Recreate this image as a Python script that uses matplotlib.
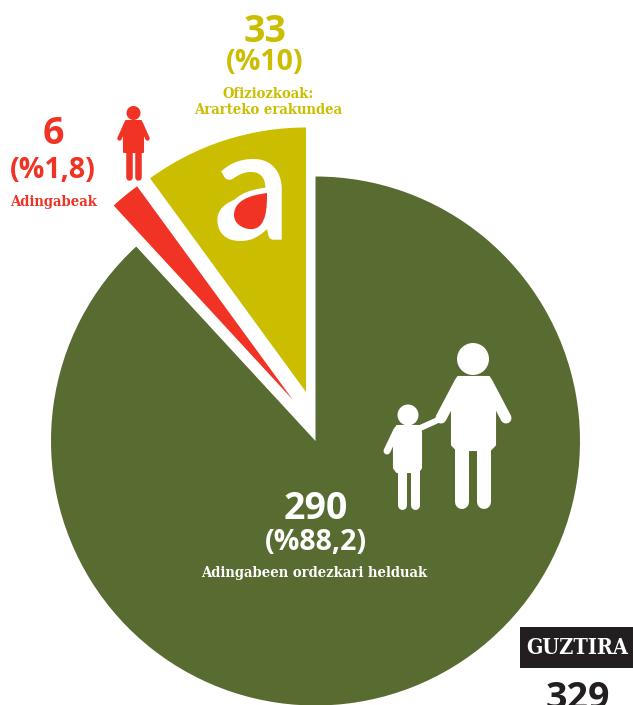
import matplotlib
matplotlib.use("Agg")
import matplotlib.pyplot as plt
from matplotlib.patches import Circle, Polygon, PathPatch, Rectangle
from matplotlib.path import Path

# Data
values = [290, 6, 33]
colors = ['#586B31', '#F03324', '#CBBD00']
counts = ['290', '6', '33']
shares = ['(%88,2)', '(%1,8)', '(%10)']
names = ['Adingabeen ordezkari helduak', 'Adingabeak', 'Ofiziozkoak:\nArarteko erakundea']
total_label = 'GUZTIRA'
total = '329'

W, H = 633, 705
NUM_FONT = 'Open Sans'
SLAB = dict(family='DejaVu Serif', stretch='condensed', weight='bold')
WHITE = 'white'


def Y(y):
    # picture rows run downwards, the axes run upwards
    return H - y


def limb(ax, x0, y0, x1, y1, width, color=WHITE):
    ax.plot([x0, x1], [Y(y0), Y(y1)], color=color, lw=width * 0.72,
            solid_capstyle='round', zorder=5)


def body(ax, pts, color=WHITE):
    ax.add_patch(Polygon([(x, Y(y)) for x, y in pts], closed=True, fc=color,
                         ec=color, lw=1.5, joinstyle='round', zorder=5))


fig = plt.figure(figsize=(W / 100, H / 100), dpi=100)
ax = fig.add_axes([0, 0, 1, 1])

# Pie, then pull the two small slices out to where they sit
wedges, _ = ax.pie(values, colors=colors, startangle=90, counterclock=False,
                   radius=264.5, center=(315.5, Y(441)))
wedges[1].set_center((293, Y(400)))
wedges[2].set_center((306, Y(392)))
ax.set_xlim(0, W)
ax.set_ylim(0, H)
ax.set_aspect('equal')
ax.axis('off')

# Yellow slice: logo
ax.text(252, Y(240), 'a', family='Lato', weight='semibold', fontsize=112, color=WHITE,
        ha='center', va='baseline', zorder=4)
drop = [(267, 193), (262, 194), (234, 196), (234, 215), (234, 226), (247, 230), (253, 229),
        (267, 227), (267, 206), (267, 193)]
codes = [Path.MOVETO] + [Path.CURVE4] * 9
drop_path = Path([(x, Y(y)) for x, y in drop], codes)
ax.add_patch(PathPatch(drop_path, fc=WHITE, ec=WHITE, lw=8, zorder=4.5))
ax.add_patch(PathPatch(drop_path, fc=colors[1], ec='none', zorder=4.6))

# Adult
ax.add_patch(Circle((473, Y(359)), 16, fc=WHITE, ec='none', zorder=5))
body(ax, [(458, 377), (489, 377), (495, 392), (495, 445), (490, 450), (457, 450), (452, 445), (452, 392)])
limb(ax, 460, 382, 441, 418, 11)
limb(ax, 487, 382, 506, 418, 11)
limb(ax, 462, 445, 462, 502, 14)
limb(ax, 484, 445, 484, 502, 14)

# Child
ax.add_patch(Circle((408, Y(415)), 10.5, fc=WHITE, ec='none', zorder=5))
body(ax, [(397, 426), (419, 426), (421, 432), (421, 468), (418, 472), (397, 472), (394, 468), (394, 432)])
limb(ax, 397, 430, 387, 451, 7)
limb(ax, 418, 429, 438, 420, 6)
limb(ax, 401.5, 468, 401.5, 505, 9)
limb(ax, 414.5, 468, 414.5, 505, 9)

# Minor
ax.add_patch(Circle((133.5, Y(113)), 7, fc=colors[1], ec='none', zorder=5))
body(ax, [(126, 121), (141, 121), (143, 128), (143, 152), (124, 152), (124, 128)], colors[1])
limb(ax, 126, 124, 119.5, 138.5, 4.5, colors[1])
limb(ax, 141, 124, 147.5, 138.5, 4.5, colors[1])
limb(ax, 129, 150, 129, 177, 6.5, colors[1])
limb(ax, 137.5, 150, 137.5, 177, 6.5, colors[1])

# Labels
ax.text(316, Y(509), counts[0], family=NUM_FONT, weight='bold', fontsize=27, color=WHITE, ha='center', va='center', zorder=6)
ax.text(315.5, Y(542), shares[0], family=NUM_FONT, weight='bold', fontsize=20.5, color=WHITE, ha='center', va='center', zorder=6)
ax.text(314, Y(573), names[0], fontsize=10.6, color=WHITE, ha='center', va='center', zorder=6, **SLAB)

ax.text(53, Y(134), counts[1], family=NUM_FONT, weight='bold', fontsize=27, color=colors[1], ha='center', va='center')
ax.text(53, Y(170), shares[1], family=NUM_FONT, weight='bold', fontsize=20.5, color=colors[1], ha='center', va='center')
ax.text(54, Y(202), names[1], fontsize=10.6, color=colors[1], ha='center', va='center', **SLAB)

ax.text(265, Y(32), counts[2], family=NUM_FONT, weight='bold', fontsize=27, color=colors[2], ha='center', va='center')
ax.text(265, Y(62), shares[2], family=NUM_FONT, weight='bold', fontsize=20.5, color=colors[2], ha='center', va='center')
ax.text(268, Y(102), names[2], fontsize=10.6, color=colors[2], ha='center', va='center', linespacing=1.25, **SLAB)

# Total box
ax.add_patch(Rectangle((520, Y(668)), 113, 41, fc='#231F20', ec='none', zorder=6))
ax.text(577, Y(648), total_label, fontsize=15.5, color=WHITE, ha='center', va='center', zorder=7, **SLAB)
ax.text(577.5, Y(699), total, family=NUM_FONT, weight='bold', fontsize=27, color='#231F20', ha='center', va='center', zorder=7)

fig.savefig('out.png', dpi=100)
